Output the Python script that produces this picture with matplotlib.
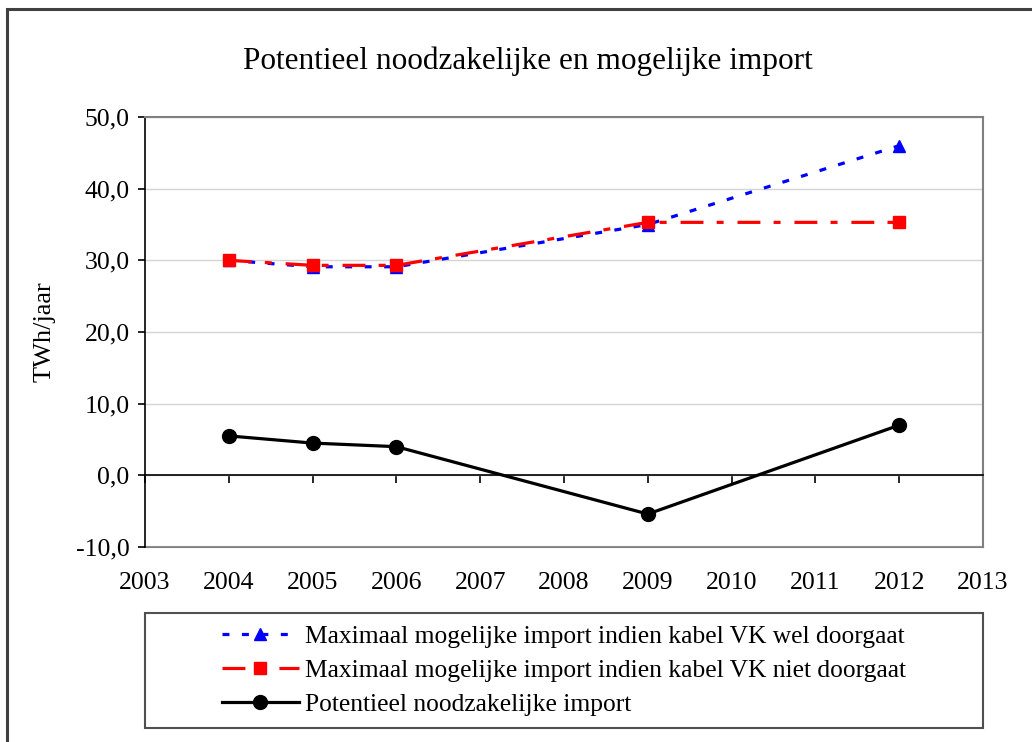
import matplotlib.pyplot as plt
from matplotlib.lines import Line2D
from matplotlib.patches import Rectangle

plt.rcParams['font.family'] = ['Liberation Serif', 'DejaVu Serif']
plt.rcParams['lines.scale_dashes'] = False

years = [2004, 2005, 2006, 2009, 2012]
wel = [30.0, 29.1, 29.1, 35.0, 46.0]
niet = [30.0, 29.3, 29.3, 35.3, 35.3]
nodig = [5.5, 4.5, 4.0, -5.4, 7.0]

labels = ['Maximaal mogelijke import indien kabel VK wel doorgaat',
          'Maximaal mogelijke import indien kabel VK niet doorgaat',
          'Potentieel noodzakelijke import']
title = 'Potentieel noodzakelijke en mogelijke import'
xticks = list(range(2003, 2014))
yticks = [-10, 0, 10, 20, 30, 40, 50]


def main():
    W, H = 1032, 742
    fig = plt.figure(figsize=(W / 100, H / 100), dpi=100)
    ax = fig.add_axes([145 / W, 1 - 547 / H, 838 / W, 430 / H])

    blue_ls = (0, (5, 9))
    red_ls = (0, (16.5, 9.5, 5, 10))
    ax.plot(years, wel, color='#0000ff', lw=2.3, ls=blue_ls, marker='^',
            ms=9, zorder=3)
    ax.plot(years, niet, color='#ff0000', lw=2.3, ls=red_ls, marker='s',
            ms=8, zorder=4)
    ax.plot(years, nodig, color='black', lw=2.3, marker='o', ms=10, zorder=5)

    ax.set_xlim(2003, 2013)
    ax.set_ylim(-10, 50)
    ax.set_yticks(yticks)
    ax.set_yticklabels([f'{v:.1f}'.replace('.', ',') for v in yticks])
    ax.grid(axis='y', color='#d4d4d4', lw=1)
    ax.set_axisbelow(True)

    # x axis line through zero, labels at the bottom of the plot area
    ax.spines['bottom'].set_position(('data', 0))
    ax.spines['bottom'].set_color('black')
    ax.spines['bottom'].set_linewidth(1.2)
    ax.spines['left'].set_color('black')
    ax.spines['left'].set_linewidth(1.2)
    for s in ('top', 'right'):
        ax.spines[s].set_color('#808080')
        ax.spines[s].set_linewidth(1.5)
    ax.set_xticks(xticks)
    ax.tick_params(axis='x', labelbottom=False, length=6, width=1.2,
                   direction='out')
    ax.tick_params(axis='y', labelsize=18.5, length=5, width=1.2, pad=6)

    sec = ax.secondary_xaxis('bottom')
    sec.set_xticks(xticks)
    sec.set_xticklabels([str(y) for y in xticks])
    sec.tick_params(length=0, labelsize=18.5, pad=18)
    sec.spines['bottom'].set_color('#808080')
    sec.spines['bottom'].set_linewidth(1.5)

    fig.text(45 / W, 1 - 332 / H, 'TWh/jaar', rotation=90, ha='center',
             va='center', fontsize=19)
    fig.text(528 / W, 1 - 61 / H, title, ha='center', va='center',
             fontsize=22.5)

    # legend
    handles = [
        Line2D([], [], color='#0000ff', lw=2.3, ls=blue_ls, marker='^', ms=9),
        Line2D([], [], color='#ff0000', lw=2.3, ls=red_ls, marker='s', ms=8),
        Line2D([], [], color='black', lw=2.3, marker='o', ms=10),
    ]
    lx0, ly0, lw_, lh = 145 / W, 1 - 728 / H, 838 / W, 115 / H
    fig.legend(handles, labels, loc='center',
               bbox_to_anchor=(lx0, ly0, lw_, lh), frameon=False,
               fontsize=18.4, handlelength=3.0, handletextpad=0.25,
               labelspacing=0.45)
    fig.patches.append(Rectangle((lx0, ly0), lw_, lh, transform=fig.transFigure,
                                 fill=False, ec='#505050', lw=1.5))
    # outer chart border
    fig.patches.append(Rectangle((7 / W, -0.05), 1.1, 1 - 9 / H + 0.05,
                                 transform=fig.transFigure, fill=False,
                                 ec='#404040', lw=2.2, clip_on=False))

    plt.savefig('out.png', dpi=100)


if __name__ == '__main__':
    main()
